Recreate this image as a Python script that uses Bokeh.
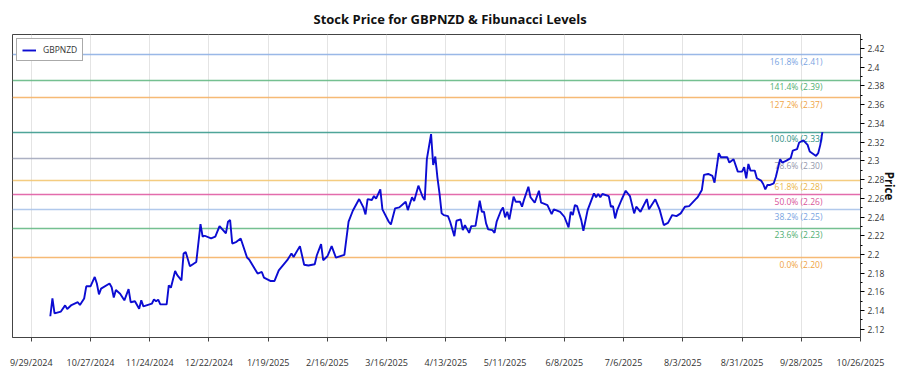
import pandas as pd
from bokeh.plotting import figure
from bokeh.models import (Range1d, FixedTicker, SingleIntervalTicker, CustomJSTickFormatter,
                          ColumnDataSource)
from bokeh.core.properties import value
from bokeh.embed import file_html
from bokeh.resources import INLINE

# ---------------- data ----------------
dates = [
    "2024-10-08", "2024-10-09", "2024-10-10", "2024-10-13", "2024-10-15", "2024-10-16", "2024-10-18",
    "2024-10-21", "2024-10-22", "2024-10-24", "2024-10-25", "2024-10-27", "2024-10-29", "2024-10-30",
    "2024-10-31", "2024-11-01", "2024-11-05", "2024-11-06", "2024-11-07", "2024-11-08", "2024-11-10",
    "2024-11-12", "2024-11-14", "2024-11-15", "2024-11-17", "2024-11-19", "2024-11-20", "2024-11-21",
    "2024-11-25", "2024-11-26", "2024-11-27", "2024-11-28", "2024-11-29", "2024-12-02", "2024-12-03",
    "2024-12-04", "2024-12-06", "2024-12-07", "2024-12-09", "2024-12-10", "2024-12-11", "2024-12-13",
    "2024-12-16", "2024-12-18", "2024-12-19", "2024-12-20", "2024-12-23", "2024-12-25", "2024-12-27",
    "2024-12-30", "2024-12-31", "2025-01-01", "2025-01-02", "2025-01-04", "2025-01-06", "2025-01-09",
    "2025-01-10", "2025-01-14", "2025-01-16", "2025-01-17", "2025-01-20", "2025-01-22", "2025-01-24",
    "2025-01-28", "2025-01-30", "2025-01-31", "2025-02-03", "2025-02-05", "2025-02-07", "2025-02-10",
    "2025-02-11", "2025-02-13", "2025-02-14", "2025-02-16", "2025-02-18", "2025-02-20", "2025-02-24",
    "2025-02-26", "2025-02-28", "2025-03-03", "2025-03-05", "2025-03-06", "2025-03-07", "2025-03-09",
    "2025-03-10", "2025-03-11", "2025-03-13", "2025-03-14", "2025-03-17", "2025-03-18", "2025-03-20",
    "2025-03-22", "2025-03-25", "2025-03-26", "2025-03-28", "2025-03-29", "2025-03-31", "2025-04-02",
    "2025-04-03", "2025-04-04", "2025-04-06", "2025-04-07", "2025-04-08", "2025-04-09", "2025-04-10",
    "2025-04-11", "2025-04-12", "2025-04-14", "2025-04-15", "2025-04-17", "2025-04-18", "2025-04-20",
    "2025-04-21", "2025-04-22", "2025-04-24", "2025-04-25", "2025-04-27", "2025-04-29", "2025-04-30",
    "2025-05-01", "2025-05-02", "2025-05-03", "2025-05-05", "2025-05-06", "2025-05-07", "2025-05-09",
    "2025-05-10", "2025-05-11", "2025-05-12", "2025-05-13", "2025-05-15", "2025-05-16", "2025-05-18",
    "2025-05-19", "2025-05-20", "2025-05-22", "2025-05-23", "2025-05-25", "2025-05-27", "2025-05-28",
    "2025-05-29", "2025-05-31", "2025-06-02", "2025-06-03", "2025-06-04", "2025-06-06", "2025-06-08",
    "2025-06-10", "2025-06-11", "2025-06-12", "2025-06-13", "2025-06-14", "2025-06-16", "2025-06-17",
    "2025-06-19", "2025-06-22", "2025-06-23", "2025-06-24", "2025-06-25", "2025-06-26", "2025-06-29",
    "2025-06-30", "2025-07-01", "2025-07-02", "2025-07-03", "2025-07-05", "2025-07-07", "2025-07-09",
    "2025-07-11", "2025-07-12", "2025-07-14", "2025-07-17", "2025-07-18", "2025-07-21", "2025-07-23",
    "2025-07-25", "2025-07-27", "2025-07-29", "2025-07-31", "2025-08-02", "2025-08-04", "2025-08-06",
    "2025-08-09", "2025-08-10", "2025-08-12", "2025-08-13", "2025-08-15", "2025-08-17", "2025-08-18",
    "2025-08-20", "2025-08-21", "2025-08-24", "2025-08-25", "2025-08-27", "2025-08-29", "2025-08-31",
    "2025-09-01", "2025-09-02", "2025-09-03", "2025-09-04", "2025-09-06", "2025-09-07", "2025-09-09",
    "2025-09-10", "2025-09-11", "2025-09-12", "2025-09-13", "2025-09-15", "2025-09-16", "2025-09-18",
    "2025-09-19", "2025-09-21", "2025-09-23", "2025-09-24", "2025-09-26", "2025-09-27", "2025-09-29",
    "2025-10-01", "2025-10-02", "2025-10-05", "2025-10-06", "2025-10-07", "2025-10-08",
]
prices = [
    2.134, 2.153, 2.137, 2.139, 2.1456, 2.1417, 2.146,
    2.149, 2.146, 2.153, 2.166, 2.166, 2.176, 2.169,
    2.1574, 2.1635, 2.169, 2.165, 2.154, 2.162, 2.158,
    2.151, 2.163, 2.149, 2.150, 2.142, 2.151, 2.1445,
    2.1474, 2.152, 2.150, 2.1517, 2.1467, 2.1467, 2.167,
    2.1645, 2.1824, 2.178, 2.1724, 2.201, 2.2027, 2.1874,
    2.192, 2.2324, 2.219, 2.220, 2.2171, 2.219, 2.2303,
    2.2225, 2.235, 2.2367, 2.2117, 2.2135, 2.217, 2.1967,
    2.1946, 2.1796, 2.1813, 2.1753, 2.1717, 2.1717, 2.1831,
    2.1939, 2.201, 2.1974, 2.2089, 2.189, 2.1882, 2.1896,
    2.1992, 2.211, 2.1939, 2.1981, 2.2089, 2.1967, 2.1996,
    2.235, 2.2467, 2.2592, 2.2503, 2.2428, 2.2592, 2.2582,
    2.2624, 2.2596, 2.2696, 2.2482, 2.235, 2.2321, 2.2493,
    2.2503, 2.2564, 2.2474, 2.2611, 2.2571, 2.2735, 2.2617,
    2.2582, 2.3018, 2.3286, 2.2957, 2.3046, 2.282, 2.265,
    2.2439, 2.2421, 2.241, 2.235, 2.2196, 2.236, 2.2375,
    2.226, 2.2314, 2.2231, 2.2303, 2.2306, 2.2574, 2.2456,
    2.2456, 2.2332, 2.2268, 2.226, 2.2231, 2.235, 2.2467,
    2.2503, 2.2396, 2.2456, 2.2375, 2.2617, 2.2564, 2.2564,
    2.251, 2.2589, 2.2724, 2.2611, 2.2553, 2.2681, 2.2553,
    2.2546, 2.2528, 2.2432, 2.2482, 2.2474, 2.2456, 2.2403,
    2.229, 2.2456, 2.2421, 2.2528, 2.2517, 2.2367, 2.2253,
    2.2474, 2.2653, 2.2611, 2.2646, 2.2611, 2.2646, 2.2624,
    2.251, 2.2517, 2.2385, 2.2474, 2.2582, 2.2681, 2.2624,
    2.2439, 2.251, 2.2456, 2.2592, 2.2482, 2.2589, 2.2482,
    2.2314, 2.2338, 2.2421, 2.241, 2.2439, 2.251, 2.2517,
    2.2589, 2.2611, 2.2689, 2.285, 2.286, 2.2839, 2.2767,
    2.3082, 2.3039, 2.3039, 2.2982, 2.3018, 2.2885, 2.2885,
    2.2932, 2.2814, 2.2967, 2.2896, 2.2896, 2.2814, 2.2789,
    2.2753, 2.2696, 2.2742, 2.2742, 2.276, 2.2831, 2.3018,
    2.2982, 2.3003, 2.3029, 2.311, 2.3125, 2.3196, 2.3218,
    2.3171, 2.31, 2.3053, 2.3082, 2.3171, 2.3307,
]

fib_levels = [2.1965, 2.2282, 2.2478, 2.2636, 2.2794, 2.3020, 2.3307, 2.3672, 2.3863, 2.4136]
fib_labels = ["0.0% (2.20)", "23.6% (2.23)", "38.2% (2.25)", "50.0% (2.26)", "61.8% (2.28)",
              "78.6% (2.30)", "100.0% (2.33)", "127.2% (2.37)", "141.4% (2.39)", "161.8% (2.41)"]
fib_line_colors = ["#f5b266", "#66b985", "#a9c3ea", "#e05ca3", "#f3c772",
                   "#a3a8bd", "#3c9b8e", "#f5b266", "#66b985", "#8fb0e4"]
fib_text_colors = ["#f0a445", "#4fae72", "#7aa4e2", "#d9559a", "#eab54a",
                   "#9397ac", "#2f9183", "#f0a445", "#4fae72", "#7aa4e2"]

tick_dates = ["2024-09-29", "2024-10-27", "2024-11-24", "2024-12-22", "2025-01-19", "2025-02-16",
              "2025-03-16", "2025-04-13", "2025-05-11", "2025-06-08", "2025-07-06", "2025-08-03",
              "2025-08-31", "2025-09-28", "2025-10-26"]
tick_labels = ["9/29/2024", "10/27/2024", "11/24/2024", "12/22/2024", "1/19/2025", "2/16/2025",
               "3/16/2025", "4/13/2025", "5/11/2025", "6/8/2025", "7/6/2025", "8/3/2025",
               "8/31/2025", "9/28/2025", "10/26/2025"]

FONT = "Open Sans"

# ---------------- figure ----------------
dt = pd.to_datetime(dates)
p = figure(width=900, height=375, x_axis_type="datetime", y_axis_location="right",
           output_backend="svg", toolbar_location=None,
           x_range=Range1d(pd.Timestamp("2024-09-20 03:00"), pd.Timestamp("2025-10-26")),
           y_range=Range1d(2.1113, 2.435),
           min_border_left=12, min_border_right=0, min_border_top=0, min_border_bottom=38)

p.title.text = "Stock Price for GBPNZD & Fibunacci Levels"
p.title.align = "left"
p.title.offset = 301
p.title.standoff = 14
p.title.text_font = FONT
p.title.text_font_size = "13px"
p.title.text_font_style = "bold"
p.title.text_color = "#111111"
p.title.text_line_height = 1.0

p.outline_line_color = "#444444"
p.outline_line_width = 1
p.background_fill_color = "white"
p.border_fill_color = "white"

# fibonacci lines
p.hspan(y=fib_levels, line_color=fib_line_colors, line_width=1.4, line_alpha=0.9)

# labels
last = [dt[-1]] * len(fib_levels)
p.text(x=last, y=fib_levels, text=fib_labels, text_color=fib_text_colors,
       text_align="right", text_baseline="top", y_offset=1,
       text_font=value(FONT), text_font_size="8.5px")

# price line
src = ColumnDataSource(dict(date=dt, price=prices))
p.line("date", "price", source=src, line_color="#0c0cd2", line_width=1.9, legend_label="GBPNZD")

# x axis
tick_ms = [int(pd.Timestamp(d).value // 10**6) for d in tick_dates]
p.xaxis.ticker = FixedTicker(ticks=tick_ms, minor_ticks=[])
p.xaxis.major_label_overrides = {t: l for t, l in zip(tick_ms, tick_labels)}
p.xaxis.major_label_text_font = FONT
p.xaxis.major_label_text_font_size = "9px"
p.xaxis.major_label_text_color = "#333333"
p.xaxis.major_tick_out = 4
p.xaxis.major_tick_in = 0
p.xaxis.major_label_standoff = 14
p.xaxis.axis_line_color = "#444444"
p.xaxis.major_tick_line_color = "#444444"

# y axis
p.yaxis.ticker = SingleIntervalTicker(interval=0.02, num_minor_ticks=2)
p.yaxis.formatter = CustomJSTickFormatter(code="return parseFloat(tick.toFixed(2)).toString();")
p.yaxis.major_label_text_font = FONT
p.yaxis.major_label_text_font_size = "8.5px"
p.yaxis.major_label_text_color = "#333333"
p.yaxis.major_tick_out = 4
p.yaxis.major_tick_in = 0
p.yaxis.minor_tick_out = 2
p.yaxis.minor_tick_in = 0
p.yaxis.major_label_standoff = 3
p.yaxis.axis_line_color = "#444444"
p.yaxis.axis_label = "Price"
p.yaxis.axis_label_text_font = FONT
p.yaxis.axis_label_text_font_size = "11.5px"
p.yaxis.axis_label_text_font_style = "bold"
p.yaxis.axis_label_text_color = "#111111"
p.yaxis.axis_label_text_line_height = 0.9
p.yaxis.axis_label_standoff = -5

p.xgrid.grid_line_color = "#e4e4e4"
p.ygrid.grid_line_color = None

# legend
p.legend.location = "top_left"
p.legend.margin = 4
p.legend.padding = 5
p.legend.spacing = 0
p.legend.label_text_font = FONT
p.legend.label_text_font_size = "8.5px"
p.legend.label_text_color = "#333333"
p.legend.glyph_width = 14
p.legend.glyph_height = 10
p.legend.label_height = 10
p.legend.label_standoff = 7
p.legend.border_line_color = "#555555"
p.legend.border_line_width = 1
p.legend.background_fill_alpha = 1

open("out.html", "w").write(file_html(p, INLINE))
